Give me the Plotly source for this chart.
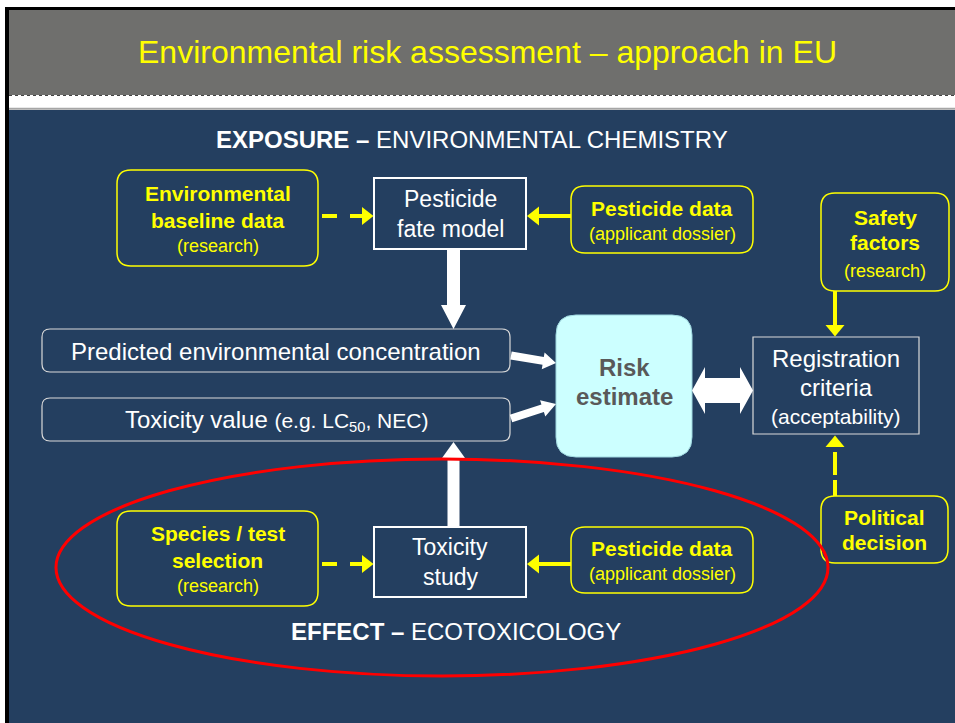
import math
import plotly.graph_objects as go

W, H = 955, 723
FONT = "Liberation Sans, Arial, sans-serif"
BLUE = "#243f60"
YELLOW = "#ffff00"

title_text = "Environmental risk assessment – approach in EU"
exposure_head = ["EXPOSURE –", "ENVIRONMENTAL CHEMISTRY"]
effect_head = ["EFFECT –", "ECOTOXICOLOGY"]

# yellow (input) boxes: bold lines, then the note in brackets
yellow_titles = [
    ["Environmental", "baseline data"],
    ["Pesticide data"],
    ["Safety", "factors"],
    ["Species / test", "selection"],
    ["Pesticide data"],
    ["Political", "decision"],
]
yellow_notes = ["(research)", "(applicant dossier)", "(research)",
                "(research)", "(applicant dossier)", ""]
yellow_geo = [
    (117, 170, 318, 266, [193, 220, 246]),
    (571, 186, 753, 253, [208, 234]),
    (821, 193, 949, 291, [217, 242, 271]),
    (117, 511, 318, 606, [533, 560, 586]),
    (571, 527, 753, 593, [548, 574]),
    (821, 496, 948, 563, [517, 542]),
]

# white process boxes
white_labels = [["Pesticide", "fate model"], ["Toxicity", "study"]]
white_geo = [(374, 178, 526, 249, [199, 229]), (374, 527, 526, 597, [547, 577])]

pec_label = "Predicted environmental concentration"
tox_label = "Toxicity value <span style='font-size:21px'>(e.g. LC<sub>50</sub>, NEC)</span>"
risk_label = ["Risk", "estimate"]
reg_label = ["Registration", "criteria", "(acceptability)"]


def rrect(x0, y0, x1, y1, r):
    return (f"M {x0+r},{y0} L {x1-r},{y0} Q {x1},{y0} {x1},{y0+r} "
            f"L {x1},{y1-r} Q {x1},{y1} {x1-r},{y1} L {x0+r},{y1} "
            f"Q {x0},{y1} {x0},{y1-r} L {x0},{y0+r} Q {x0},{y0} {x0+r},{y0} Z")


def poly(pts):
    return "M " + " L ".join(f"{x:.2f},{y:.2f}" for x, y in pts) + " Z"


def arrow(x0, y0, x1, y1, shaft, head_w, head_len):
    dx, dy = x1 - x0, y1 - y0
    L = math.hypot(dx, dy)
    ux, uy = dx / L, dy / L
    nx, ny = -uy, ux
    bx, by = x1 - ux * head_len, y1 - uy * head_len
    s, h = shaft / 2, head_w / 2
    return poly([(x0 + nx * s, y0 + ny * s), (bx + nx * s, by + ny * s),
                 (bx + nx * h, by + ny * h), (x1, y1),
                 (bx - nx * h, by - ny * h), (bx - nx * s, by - ny * s),
                 (x0 - nx * s, y0 - ny * s)])


shapes = []
annos = []


def path(p, fill=None, line=None, lw=0):
    shapes.append(dict(type="path", path=p, xref="x", yref="y",
                       fillcolor=fill or "rgba(0,0,0,0)",
                       line=dict(color=line or "rgba(0,0,0,0)", width=lw)))


def seg(x0, y0, x1, y1, color, w, dash=None):
    shapes.append(dict(type="line", x0=x0, y0=y0, x1=x1, y1=y1, xref="x", yref="y",
                       line=dict(color=color, width=w, dash=dash or "solid")))


def text(x, y, t, size, color, bold=False):
    if bold:
        t = f"<b>{t}</b>"
    annos.append(dict(x=x, y=y, xref="x", yref="y", text=t, showarrow=False,
                      font=dict(family=FONT, size=size, color=color),
                      xanchor="center", yanchor="middle"))


# slide background
path(poly([(9, 10), (W, 10), (W, 95), (9, 95)]), fill="#6f6f6d")
path(poly([(9, 110), (W, 110), (W, H), (9, H)]), fill=BLUE)
seg(9, 108.8, W, 108.8, "#a6a6a6", 2)
seg(9, 95.5, W, 95.5, "#444444", 1, "dot")
path(poly([(5, 7), (W, 7), (W, 10), (9, 10), (9, H), (5, H)]), fill="#000000")

text(487, 52, title_text, 32, YELLOW)
text(472, 139, f"<b>{exposure_head[0]}</b> {exposure_head[1]}", 24, "white")
text(456, 631, f"<b>{effect_head[0]}</b> {effect_head[1]}", 24, "white")

# yellow boxes
for lines, note, (x0, y0, x1, y1, ys) in zip(yellow_titles, yellow_notes, yellow_geo):
    path(rrect(x0, y0, x1, y1, 14), line=YELLOW, lw=1.5)
    cx = (x0 + x1) / 2
    for t, y in zip(lines, ys):
        text(cx, y, t, 21, YELLOW, bold=True)
    if note:
        text(cx, ys[len(lines)], note, 18, YELLOW)

# white process boxes
for lines, (x0, y0, x1, y1, ys) in zip(white_labels, white_geo):
    path(poly([(x0, y0), (x1, y0), (x1, y1), (x0, y1)]), line="white", lw=2)
    for t, y in zip(lines, ys):
        text((x0 + x1) / 2, y, t, 23, "white")

# PEC and toxicity value
path(rrect(42, 329, 510, 372, 8), line="#d9d9d9", lw=1.2)
path(rrect(42, 398, 510, 441, 8), line="#d9d9d9", lw=1.2)
text(276, 351, pec_label, 24, "white")
text(276, 420, tox_label, 24, "white")

# risk estimate
path(rrect(556, 315, 692, 457, 20), fill="#ccffff", line="#9fd8e0", lw=1)
text(624, 367, risk_label[0], 24, "#595959", bold=True)
text(624, 396, risk_label[1], 24, "#595959", bold=True)

# registration criteria
path(poly([(753, 337), (919, 337), (919, 434), (753, 434)]), line="#d9d9d9", lw=1.2)
for t, y, s in zip(reg_label, [358, 387, 416], [24, 24, 21]):
    text(836, y, t, s, "white")

# white arrows
path(arrow(453.5, 249, 453.5, 329, 13, 25, 24), fill="white")
path(arrow(453.5, 527, 453.5, 442, 12, 23, 16), fill="white")
path(arrow(511, 355.5, 556, 363, 8, 17, 13), fill="white")
path(arrow(511, 418.5, 556, 404, 8, 17, 14), fill="white")
path(poly([(692, 390.5), (705, 367), (705, 378), (740, 378), (740, 367), (753, 390.5),
           (740, 414), (740, 403), (705, 403), (705, 414)]), fill="white")

# yellow arrows
for y in (216, 564):
    seg(322, y, 337, y, YELLOW, 4)
    seg(350, y, 363, y, YELLOW, 4)
    path(poly([(362, y - 9), (373.5, y), (362, y + 9)]), fill=YELLOW)
    seg(571, y, 537, y, YELLOW, 4)
    path(poly([(539, y - 9.5), (527, y), (539, y + 9.5)]), fill=YELLOW)

seg(835, 291, 835, 326, YELLOW, 4)
path(poly([(825.5, 325), (835, 336.5), (844.5, 325)]), fill=YELLOW)
seg(835, 496, 835, 480, YELLOW, 4)
seg(835, 475, 835, 452, YELLOW, 4)
path(poly([(825.5, 447), (835, 435.5), (844.5, 447)]), fill=YELLOW)

# red ellipse around the effect part
shapes.append(dict(type="circle", xref="x", yref="y", x0=56, x1=828, y0=459, y1=676,
                   line=dict(color="#ff0000", width=3)))

fig = go.Figure()
fig.update_layout(
    width=W, height=H,
    margin=dict(l=0, r=0, t=0, b=0),
    paper_bgcolor="white", plot_bgcolor="white",
    xaxis=dict(range=[0, W], visible=False, fixedrange=True),
    yaxis=dict(range=[H, 0], visible=False, fixedrange=True),
    shapes=shapes, annotations=annos, showlegend=False,
)
# drop the default body margin so the figure fills the window
fig.write_html("out.html", config={"displayModeBar": False},
               post_script="document.body.style.margin='0';")
